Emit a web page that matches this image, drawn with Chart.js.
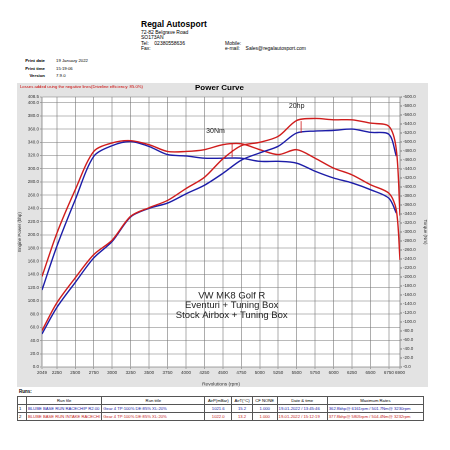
<!DOCTYPE html>
<html><head><meta charset="utf-8">
<script src="https://cdn.jsdelivr.net/npm/chart.js@4"></script>
<style>
body{margin:0;width:450px;height:450px;background:#fff;font-family:"Liberation Sans",Arial,sans-serif;position:relative;overflow:hidden}
.abs{position:absolute;white-space:nowrap}
#panel{position:absolute;left:17px;top:83px;width:411px;height:304px;background:#e3e3e3}
#wrap{position:absolute;left:17px;top:83px;width:411px;height:304px}
#c{width:411px;height:304px}
table{position:absolute;left:17px;top:396px;width:407px;border-collapse:collapse;font-size:4.2px}
td{border:1px solid #555;padding:1px 1px;height:5px;white-space:nowrap;overflow:hidden}
</style></head><body>
<div class="abs" style="left:141px;top:19px;font-size:8.5px;font-weight:bold">Regal Autosport</div>
<div class="abs" style="left:141px;top:30px;font-size:5px;line-height:5.4px">72-82 Belgrave Road<br>SO173AN<br>Tel: &nbsp;&nbsp; 02380558636<br>Fax:</div>
<div class="abs" style="left:225px;top:41px;font-size:5px;line-height:5.4px">Mobile:<br>e-mail: &nbsp;&nbsp; Sales@regalautosport.com</div>
<div class="abs" style="left:23px;top:57px;font-size:4.3px;line-height:7.5px;font-weight:bold;text-align:right;width:22px">Print date<br>Print time<br>Version</div>
<div class="abs" style="left:56px;top:57px;font-size:4.3px;line-height:7.5px">19 January 2022<br>15:19:06<br>7.9.0</div>
<div id="panel"></div>
<div id="wrap"><canvas id="c" width="411" height="304"></canvas></div>
<div class="abs" style="left:20px;top:84px;font-size:4.2px;color:#c00">Losses added using the negative lines(Driveline efficiency: 85.0%)</div>
<div class="abs" style="left:195px;top:83px;font-size:8px;font-weight:bold">Power Curve</div>
<div class="abs" style="left:19px;top:389px;font-size:4.5px;font-weight:bold">Runs:</div>
<table>
<tr style="text-align:center"><td style="width:6px"></td><td style="width:70px">Run file</td><td style="width:100px">Run title</td><td>AirP(mBar)</td><td>AirT(°C)</td><td>CF NONE</td><td>Date &amp; time</td><td>Maximum Rates</td></tr>
<tr style="color:#1a1aa8"><td style="color:#000">1</td><td>BLUBE BASE RUN RACECHIP R2.00</td><td>Gear 4 TP:100% DE:85% XL:20%</td><td style="text-align:center">1021.6</td><td style="text-align:center">15.2</td><td style="text-align:center">1.000</td><td>19-01-2022 / 13:45:46</td><td>362.8bhp@ 6161rpm / 501.7Nm@ 3230rpm</td></tr>
<tr style="color:#c41a1a"><td style="color:#000">2</td><td>BLUBE BASE RUN INTAKE RACECHI</td><td>Gear 4 TP:100% DE:85% XL:20%</td><td style="text-align:center">1022.0</td><td style="text-align:center">13.2</td><td style="text-align:center">1.000</td><td>19-01-2022 / 15:12:19</td><td>377.8bhp@ 5805rpm / 504.4Nm@ 3232rpm</td></tr>
</table>
<script>
const rpm = [2049, 2250, 2500, 2750, 3000, 3250, 3500, 3750, 4000, 4250, 4500, 4750, 5000, 5250, 5500, 5750, 6000, 6250, 6500, 6750, 6850, 6900];
const redPower = [55, 97, 135, 170, 192, 228, 241, 252, 270, 287, 315, 335, 340, 349, 373, 376, 374, 374, 369, 364, 329, 229];
const bluePower = [50, 90, 128, 165, 190, 227, 240, 248, 262, 275, 293, 313, 324, 334, 354, 357, 358, 360, 355, 352, 319, null];
const redTorque = [201, 297, 394, 479, 498, 503, 494, 479, 479, 483, 494, 496, 483, 472, 483, 464, 442, 427, 405, 386, 349, 238];
const blueTorque = [171, 268, 372, 468, 492, 501, 490, 472, 469, 464, 464, 464, 457, 457, 453, 435, 420, 409, 394, 375, 342, null];
const rpmTicks = [2049, 2250, 2500, 2750, 3000, 3250, 3500, 3750, 4000, 4250, 4500, 4750, 5000, 5250, 5500, 5750, 6000, 6250, 6500, 6750, 6900];
const hpTicks = [0,20,40,60,80,100,120,140,160,180,200,220,240,260,280,300,320,340,360,380,400,408.5];
const nmTicks = [0,20,40,60,80,100,120,140,160,180,200,220,240,260,280,300,320,340,360,380,400,420,440,460,480,500,520,540,560,580,600];

const RED = '#d01c1c', BLUE = '#1c1ca8';
const pts = (ys) => rpm.map((x, i) => ({x, y: ys[i]}));
const ds = (label, ys, color, axis) => ({label, data: pts(ys), borderColor: color, borderWidth: 1.4,
  pointRadius: 0, tension: 0.3, yAxisID: axis, spanGaps: false});

const bg = {id: 'bg', beforeDraw(ch) {
  const a = ch.chartArea, c = ch.ctx;
  c.save(); c.fillStyle = '#fff'; c.fillRect(a.left, a.top, a.right - a.left, a.bottom - a.top); c.restore();
}};
const notes = {id: 'notes', afterDatasetsDraw(ch) {
  const c = ch.ctx, x = ch.scales.x, yl = ch.scales.y, yr = ch.scales.y2;
  c.save();
  c.fillStyle = '#222'; c.font = '7px "Liberation Sans"'; c.textAlign = 'center';
  c.fillText('30Nm', x.getPixelForValue(4400), yr.getPixelForValue(520));
  c.fillText('20hp', x.getPixelForValue(5500), yl.getPixelForValue(392));
  c.strokeStyle = RED; c.lineWidth = 0.8;
  c.beginPath();
  c.moveTo(x.getPixelForValue(4625), yr.getPixelForValue(497)); c.lineTo(x.getPixelForValue(4625), yr.getPixelForValue(466));
  c.moveTo(x.getPixelForValue(5560), yl.getPixelForValue(372)); c.lineTo(x.getPixelForValue(5560), yl.getPixelForValue(354));
  c.stroke();
  c.font = '9.5px "Liberation Sans"';
  const cx = x.getPixelForValue(4620);
  c.fillText('VW MK8 Golf R', cx, yl.getPixelForValue(104));
  c.fillText('Eventuri + Tuning Box', cx, yl.getPixelForValue(89));
  c.fillText('Stock Airbox + Tuning Box', cx, yl.getPixelForValue(74));
  c.restore();
}};

const tickFont = {size: 4.5, family: 'Liberation Sans'};
new Chart(document.getElementById('c'), {
  type: 'line',
  data: {datasets: [
    ds('Power 2', redPower, RED, 'y'), ds('Power 1', bluePower, BLUE, 'y'),
    ds('Torque 2', redTorque, RED, 'y2'), ds('Torque 1', blueTorque, BLUE, 'y2')]},
  options: {
    responsive: false, animation: false, devicePixelRatio: 2,
    layout: {padding: {top: 14, bottom: 0, left: 0, right: 0}},
    plugins: {legend: {display: false}, tooltip: {enabled: false}},
    scales: {
      x: {type: 'linear', min: 2049, max: 6900,
        afterBuildTicks: s => { s.ticks = rpmTicks.map(v => ({value: v})); },
        afterFit: s => { s.height = 20; },
        ticks: {font: tickFont, color: '#333', maxRotation: 0, autoSkip: false, padding: 1, callback: v => String(v)},
        grid: {color: '#777', lineWidth: 0.6, tickLength: 2},
        title: {display: true, text: 'Revolutions (rpm)', font: {size: 4.8}, color: '#333', padding: 0}},
      y: {position: 'left', min: 0, max: 408.5,
        afterBuildTicks: s => { s.ticks = hpTicks.map(v => ({value: v})); },
        afterFit: s => { s.width = 25; },
        ticks: {font: tickFont, color: '#333', autoSkip: false, padding: 1, callback: v => v.toFixed(1)},
        grid: {color: '#777', lineWidth: 0.6, tickLength: 2},
        title: {display: true, text: 'Engine Power (bhp)', font: {size: 4.5}, color: '#333', padding: 0}},
      y2: {position: 'right', min: 0, max: 600,
        afterBuildTicks: s => { s.ticks = nmTicks.map(v => ({value: v})); },
        afterFit: s => { s.width = 28; },
        ticks: {font: tickFont, color: '#333', autoSkip: false, padding: 1, callback: v => '-' + v.toFixed(1)},
        grid: {drawOnChartArea: false, color: '#777', tickLength: 2},
        title: {display: true, text: 'Torque (Nm)', font: {size: 4.5}, color: '#333', padding: 0}}
    }
  },
  plugins: [bg, notes]
});
</script>
</body></html>
